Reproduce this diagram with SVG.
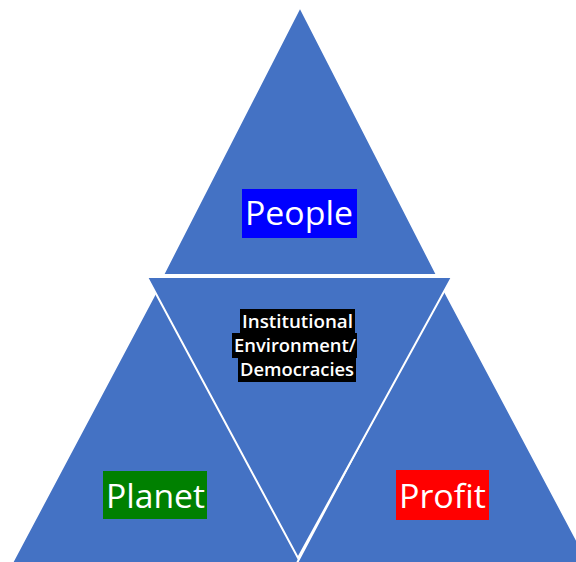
<svg xmlns="http://www.w3.org/2000/svg" width="576" height="562" viewBox="0 0 576 562">
<style>
.tri{fill:#4472C4;stroke:#FFFFFF;stroke-width:2;stroke-linejoin:miter}
.big{font-family:"Open Sans","Liberation Sans",Arial,sans-serif;font-size:32px;fill:#FFFFFF}
.small{font-family:"Open Sans","Liberation Sans",Arial,sans-serif;font-size:18px;fill:#FFFFFF;font-weight:600}
</style>
<rect width="576" height="562" fill="#FFFFFF"/>
<g id="planet">
<polygon class="tri" points="158,288 12,563 306,563"/>
</g>
<g id="profit">
<polygon class="tri" points="443,288 297,563 589,563"/>
</g>
<g id="people">
<polygon class="tri" points="300,7 163,275 437,275"/>
</g>
<g id="institutional">
<polygon class="tri" points="147,277 452,277 298,558"/>
</g>
<g id="connectors"></g>
<g id="people-label">
<rect x="242" y="189" width="115" height="49" fill="#0000FF"/>
<text class="big" x="245" y="225" textLength="108" lengthAdjust="spacingAndGlyphs">People</text>
</g>
<g id="planet-label">
<rect x="103" y="471" width="104" height="48" fill="#008000"/>
<text class="big" x="106" y="508" textLength="99" lengthAdjust="spacingAndGlyphs">Planet</text>
</g>
<g id="profit-label">
<rect x="396" y="470" width="93" height="50" fill="#FF0000"/>
<text class="big" x="399" y="508" textLength="87" lengthAdjust="spacingAndGlyphs">Profit</text>
</g>
<g id="institutional-label">
<rect x="240" y="309" width="115" height="24" fill="#000000"/>
<rect x="232" y="333" width="125" height="25" fill="#000000"/>
<rect x="238" y="358" width="118" height="24" fill="#000000"/>
<text class="small" x="242" y="328" textLength="111" lengthAdjust="spacingAndGlyphs">Institutional</text>
<text class="small" x="234" y="352" textLength="122" lengthAdjust="spacingAndGlyphs">Environment/</text>
<text class="small" x="240" y="376" textLength="114" lengthAdjust="spacingAndGlyphs">Democracies</text>
</g>
</svg>
